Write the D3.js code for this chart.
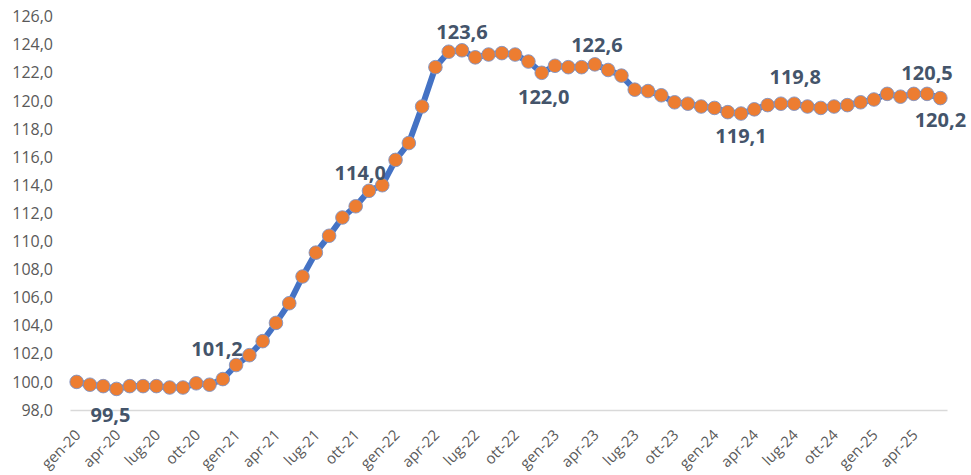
<!DOCTYPE html>
<html>
<head>
<meta charset="utf-8">
<script src="https://cdn.jsdelivr.net/npm/d3@7"></script>
<style>
  body { margin: 0; background: #fff; }
  svg { display: block; font-family: "Open Sans", sans-serif; }
</style>
</head>
<body>
<div id="chart"></div>
<script>
// monthly index, gen-20 .. giu-25
const months = ["gen", "feb", "mar", "apr", "mag", "giu", "lug", "ago", "set", "ott", "nov", "dic"];
const years = ["20", "21", "22", "23", "24", "25"];
const values = [
  100.0, 99.8, 99.7, 99.5, 99.7, 99.7, 99.7, 99.6, 99.6, 99.9, 99.8, 100.2,
  101.2, 101.9, 102.9, 104.2, 105.6, 107.5, 109.2, 110.4, 111.7, 112.5, 113.6, 114.0,
  115.8, 117.0, 119.6, 122.4, 123.5, 123.6, 123.1, 123.3, 123.4, 123.3, 122.8, 122.0,
  122.5, 122.4, 122.4, 122.6, 122.2, 121.8, 120.8, 120.7, 120.4, 119.9, 119.8, 119.6,
  119.5, 119.2, 119.1, 119.4, 119.7, 119.8, 119.8, 119.6, 119.5, 119.6, 119.7, 119.9,
  120.1, 120.5, 120.3, 120.5, 120.5, 120.2
];
const yTicks = [98, 100, 102, 104, 106, 108, 110, 112, 114, 116, 118, 120, 122, 124, 126];
// points that carry a value label
const labeled = [3, 12, 23, 29, 35, 39, 50, 54, 64, 65];

const categories = [];
years.forEach(y => months.forEach(m => categories.push(m + "-" + y)));
categories.length = values.length;

const W = 971, H = 475;
const plot = { left: 70, right: 947, top: 16.6, bottom: 410 };

const svg = d3.select("#chart").append("svg")
  .attr("width", W)
  .attr("height", H);

const it = d3.formatLocale({ decimal: ",", thousands: ".", grouping: [3], currency: ["", "€"] });
const fmt = it.format(".1f");

const x = d3.scaleBand()
  .domain(categories)
  .range([plot.left, plot.right])
  .padding(0);
const cx = d => x(d) + x.bandwidth() / 2;

const y = d3.scaleLinear()
  .domain([98, 126])
  .range([plot.bottom, plot.top]);

// y axis labels (no line, no ticks)
const yAxis = svg.append("g")
  .attr("transform", "translate(" + (plot.left - 8) + ",0)")
  .call(d3.axisLeft(y).tickValues(yTicks).tickFormat(fmt).tickSize(0).tickPadding(9));
yAxis.select(".domain").remove();
yAxis.selectAll("text")
  .style("font-size", "16px")
  .style("fill", "#595959")
  .style("font-family", "Open Sans, sans-serif");

// category axis: light baseline + rotated labels every 3 months
const xAxis = svg.append("g")
  .attr("transform", "translate(0," + plot.bottom + ")")
  .call(d3.axisBottom(x).tickValues(categories.filter((c, i) => i % 3 === 0)).tickSize(0));
xAxis.select(".domain").attr("stroke", "#d9d9d9").attr("stroke-width", 1.5);
xAxis.selectAll("text")
  .style("font-size", "15px")
  .style("fill", "#595959")
  .style("font-family", "Open Sans, sans-serif")
  .attr("text-anchor", "end")
  .attr("x", 0)
  .attr("y", 0)
  .attr("dy", 0)
  .attr("transform", "translate(5,26) rotate(-45)");

// line
const line = d3.line()
  .x((d, i) => cx(categories[i]))
  .y(d => y(d));

svg.append("path")
  .datum(values)
  .attr("d", line)
  .attr("fill", "none")
  .attr("stroke", "#4472c4")
  .attr("stroke-width", 6)
  .attr("stroke-linejoin", "round");

// markers
svg.append("g")
  .selectAll("circle")
  .data(values)
  .join("circle")
  .attr("cx", (d, i) => cx(categories[i]))
  .attr("cy", d => y(d))
  .attr("r", 6.8)
  .attr("fill", "#ed7d31")
  .attr("stroke", "#7f93c4")
  .attr("stroke-width", 0.9);

// value labels: offset from point (dx, dy) for each labelled point
const labelOffset = {
  3: [-6, 26], 12: [-19, -17], 23: [-22, -13], 29: [0, -19], 35: [2, 24],
  39: [2, -20], 50: [0, 22], 54: [1, -27], 64: [0, -21], 65: [0, 21]
};

svg.append("g")
  .selectAll("text")
  .data(labeled)
  .join("text")
  .attr("x", i => cx(categories[i]) + labelOffset[i][0])
  .attr("y", i => y(values[i]) + labelOffset[i][1])
  .attr("text-anchor", "middle")
  .attr("dominant-baseline", "central")
  .style("font-size", "20px")
  .style("font-weight", "bold")
  .style("fill", "#44546a")
  .text(i => fmt(values[i]));
</script>
</body>
</html>
